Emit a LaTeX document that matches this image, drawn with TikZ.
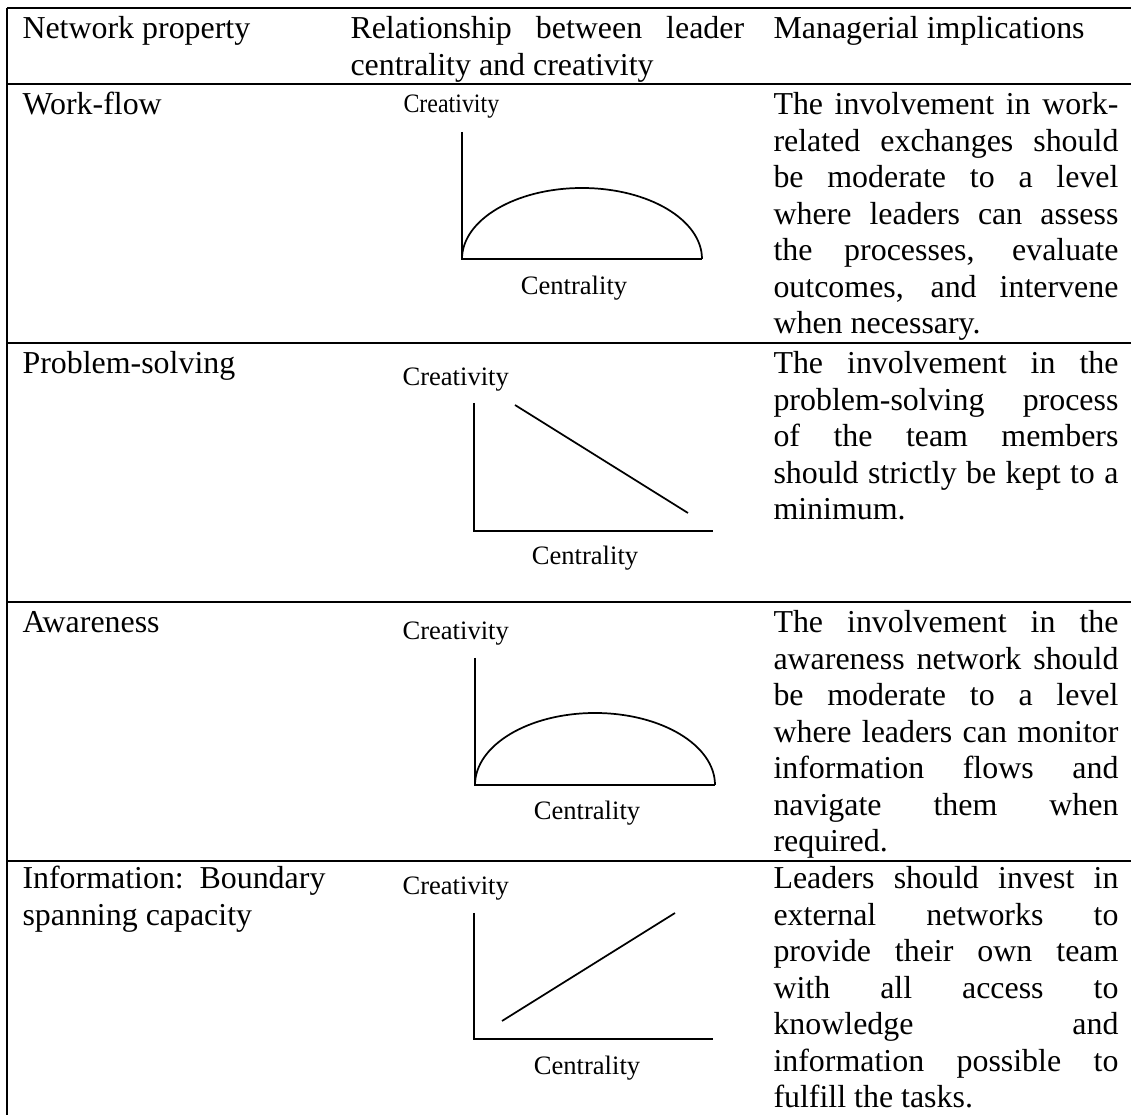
\documentclass[tikz,border=0pt]{standalone}
\usepackage{fontspec}
\setmainfont{Liberation Serif}
\usepackage{graphicx}
\usepackage{tikz}
\usetikzlibrary{positioning}
% one justified line of a cell
\newcommand\jline[2]{\makebox[#1][s]{\spaceskip=0pt\relax\xspaceskip=0pt\relax #2}}
\newcommand\wProp{113.9pt}
\newcommand\wRel{148pt}
\newcommand\wImpl{129.7pt}

\begin{document}
\begin{tikzpicture}[x=0.376pt,y=-0.376pt,
        cell/.style={anchor=base west,inner sep=0pt,font=\fontsize{12}{13.7}\selectfont,
            execute at begin node={\spaceskip=0pt\relax\xspaceskip=0pt\relax}},
        axlabel/.style={inner sep=0pt,font=\fontsize{10}{12}\selectfont},
        rule/.style={line width=0.9pt},
        axis/.style={line width=0.75pt,line join=miter},
        curve/.style={line width=0.65pt}]
        \useasboundingbox (0,0) rectangle (1131,1115);
        % table lines
        \draw[rule] (7,8) -- (1131,8);
        \draw[rule] (7,84) -- (1131,84);
        \draw[rule] (7,343) -- (1131,343);
        \draw[rule] (7,602) -- (1131,602);
        \draw[rule] (7,861) -- (1131,861);
        \draw[rule] (7,8) -- (7,1115);
        % header
        \node[cell,text width=\wProp] (hProp) at (22,39) {Network property};
        \node[cell,text width=\wRel] (hRel) at (350,39) {\jline{\wRel}{Relationship between leader}\\
            centrality and creativity};
        \node[cell,text width=\wImpl] (hImpl) at (773,39) {Managerial implications};
        % rows, first column
        \node[cell,text width=\wProp] (workflow) at (22,115) {Work-flow};
        \node[cell,text width=\wProp] (problem) at (22,374) {Problem-solving};
        \node[cell,text width=\wProp] (aware) at (22,633) {Awareness};
        \node[cell,text width=\wProp] (info) at (22,889) {\jline{\wProp}{Information: Boundary}\\
            spanning capacity};
        % rows, last column
        \node[cell,text width=\wImpl] (implWork) at (773,115) {\jline{\wImpl}{The involvement in work-}\\
            \jline{\wImpl}{related exchanges should}\\
            \jline{\wImpl}{be moderate to a level}\\
            \jline{\wImpl}{where leaders can assess}\\
            \jline{\wImpl}{the processes, evaluate}\\
            \jline{\wImpl}{outcomes, and intervene}\\
            when necessary.};
        \node[cell,text width=\wImpl] (implProb) at (773,374) {\jline{\wImpl}{The involvement in the}\\
            \jline{\wImpl}{problem-solving process}\\
            \jline{\wImpl}{of the team members}\\
            \jline{\wImpl}{should strictly be kept to a}\\
            minimum.};
        \node[cell,text width=\wImpl] (implAware) at (773,633) {\jline{\wImpl}{The involvement in the}\\
            \jline{\wImpl}{awareness network should}\\
            \jline{\wImpl}{be moderate to a level}\\
            \jline{\wImpl}{where leaders can monitor}\\
            \jline{\wImpl}{information flows and}\\
            \jline{\wImpl}{navigate them when}\\
            required.};
        \node[cell,text width=\wImpl] (implInfo) at (773,889) {\jline{\wImpl}{Leaders should invest in}\\
            \jline{\wImpl}{external networks to}\\
            \jline{\wImpl}{provide their own team}\\
            \jline{\wImpl}{with all access to}\\
            \jline{\wImpl}{knowledge and}\\
            \jline{\wImpl}{information possible to}\\
            fulfill the tasks.};
        % chart 1: inverted U
        \coordinate (o1) at (462,259);
        \coordinate (y1) at (462,132);
        \coordinate (x1) at (702,259);
        \draw[axis] (y1) -- (o1) -- (x1);
        \draw[curve] (o1) arc (180:360:120 and 71);
        \node[axlabel,anchor=base west] (cre1) at (403,113) {\scalebox{0.9}[1]{Creativity}};
        \node[axlabel,anchor=base] (cen1) at (574,295) {Centrality};
        % chart 2: falling line
        \coordinate (o2) at (474,531);
        \coordinate (y2) at (474,403);
        \coordinate (x2) at (713,531);
        \coordinate (a2) at (515,405);
        \coordinate (b2) at (688,513);
        \draw[axis] (y2) -- (o2) -- (x2);
        \draw[curve] (a2) -- (b2);
        \node[axlabel,anchor=base west] (cre2) at (402,386) {Creativity};
        \node[axlabel,anchor=base] (cen2) at (585,565) {Centrality};
        % chart 3: inverted U
        \coordinate (o3) at (475,785);
        \coordinate (y3) at (475,658);
        \coordinate (x3) at (715,785);
        \draw[axis] (y3) -- (o3) -- (x3);
        \draw[curve] (o3) arc (180:360:120 and 72);
        \node[axlabel,anchor=base west] (cre3) at (402,640) {Creativity};
        \node[axlabel,anchor=base] (cen3) at (587,820) {Centrality};
        % chart 4: rising line
        \coordinate (o4) at (474,1039);
        \coordinate (y4) at (474,913);
        \coordinate (x4) at (713,1039);
        \coordinate (a4) at (502,1021);
        \coordinate (b4) at (675,913);
        \draw[axis] (y4) -- (o4) -- (x4);
        \draw[curve] (a4) -- (b4);
        \node[axlabel,anchor=base west] (cre4) at (402,895) {Creativity};
        \node[axlabel,anchor=base] (cen4) at (587,1075) {Centrality};
\end{tikzpicture}
\end{document}
